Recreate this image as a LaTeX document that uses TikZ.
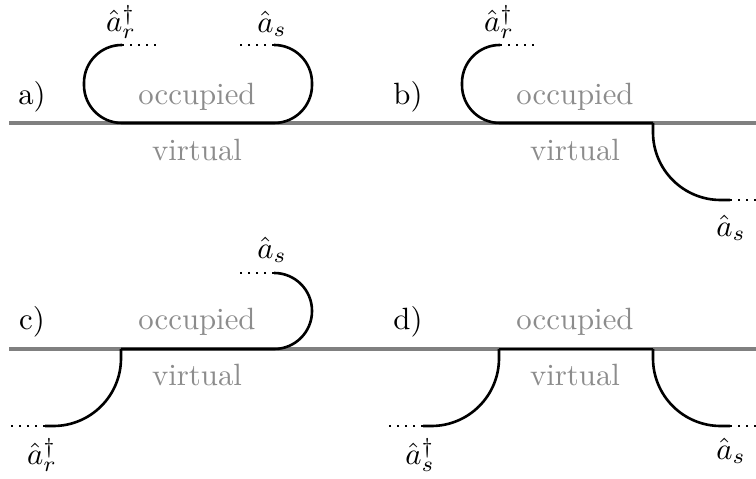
\documentclass[tikz,border=0pt]{standalone}
\usepackage{amsmath}
\usetikzlibrary{positioning}
\tikzset{
  fermi/.style={line width=1.3pt, draw=black!50},
  strand/.style={line width=0.85pt, draw=black, rounded corners=12.3pt},
  strandsoft/.style={line width=0.85pt, draw=black, rounded corners=22pt},
  tail/.style={dotted, line width=0.6pt},
  region/.style={text=black!45},
  tag/.style={inner sep=1pt}
}
\begin{document}
\begin{tikzpicture}[x=0.325pt, y=-0.325pt]
  \useasboundingbox (0,0) rectangle (756,479);
  \draw[fermi] (9,123) -- (756,123);
  \draw[fermi] (9,349) -- (756,349);

  % a)
  \begin{scope}
    \node (labA) at (32,97) {a)};
    \node[region] (occA) at (197,97) {occupied};
    \node[region] (virA) at (197,150) {virtual};
    \coordinate (aIn) at (122,45);
    \coordinate (aInEnd) at (160,45);
    \coordinate (aOut) at (274,45);
    \coordinate (aOutEnd) at (235,45);
    \draw[strand] (aIn) -- (84,45) -- (84,123) -- (312,123) -- (312,45) -- (aOut);
    \draw[tail] (aIn) -- (aInEnd);
    \draw[tail] (aOut) -- (aOutEnd);
    \node[tag] (aR) at (121,22) {$\hat{a}_r^\dagger$};
    \node[tag] (aS) at (272,24) {$\hat{a}_s$};
  \end{scope}

  % b)
  \begin{scope}[shift={(378,0)}]
    \node (labB) at (30,97) {b)};
    \node[region] (occB) at (197,97) {occupied};
    \node[region] (virB) at (197,150) {virtual};
    \coordinate (bIn) at (122,45);
    \coordinate (bInEnd) at (160,45);
    \coordinate (bKnee) at (275,123);
    \coordinate (bOut) at (352,200);
    \coordinate (bOutEnd) at (378,200);
    \draw[strand] (bIn) -- (84,45) -- (84,123) -- (bKnee);
    \draw[strandsoft] (bKnee) -- (275,200) -- (bOut);
    \draw[tail] (bIn) -- (bInEnd);
    \draw[tail] (bOut) -- (bOutEnd);
    \node[tag] (bR) at (121,22) {$\hat{a}_r^\dagger$};
    \node[tag] (bS) at (353,228) {$\hat{a}_s$};
  \end{scope}

  % c)
  \begin{scope}[shift={(0,226)}]
    \node (labC) at (32,96) {c)};
    \node[region] (occC) at (197,96) {occupied};
    \node[region] (virC) at (197,149) {virtual};
    \coordinate (cKnee) at (121,123);
    \coordinate (cIn) at (45,200);
    \coordinate (cInEnd) at (8,200);
    \coordinate (cOut) at (274,47);
    \coordinate (cOutEnd) at (235,47);
    \draw[strandsoft] (cKnee) -- (121,200) -- (cIn);
    \draw[strand] (cKnee) -- (312,123) -- (312,47) -- (cOut);
    \draw[tail] (cIn) -- (cInEnd);
    \draw[tail] (cOut) -- (cOutEnd);
    \node[tag] (cR) at (42,229) {$\hat{a}_r^\dagger$};
    \node[tag] (cS) at (272,24) {$\hat{a}_s$};
  \end{scope}

  % d)
  \begin{scope}[shift={(378,226)}]
    \node (labD) at (30,96) {d)};
    \node[region] (occD) at (197,96) {occupied};
    \node[region] (virD) at (197,149) {virtual};
    \coordinate (dKneeL) at (121,123);
    \coordinate (dKneeR) at (275,123);
    \coordinate (dIn) at (45,200);
    \coordinate (dInEnd) at (8,200);
    \coordinate (dOut) at (352,200);
    \coordinate (dOutEnd) at (378,200);
    \draw[strandsoft] (dKneeL) -- (121,200) -- (dIn);
    \draw[strand] (dKneeL) -- (dKneeR);
    \draw[strandsoft] (dKneeR) -- (275,200) -- (dOut);
    \draw[tail] (dIn) -- (dInEnd);
    \draw[tail] (dOut) -- (dOutEnd);
    \node[tag] (dL) at (42,229) {$\hat{a}_s^\dagger$};
    \node[tag] (dS) at (353,225) {$\hat{a}_s$};
  \end{scope}
\end{tikzpicture}
\end{document}
